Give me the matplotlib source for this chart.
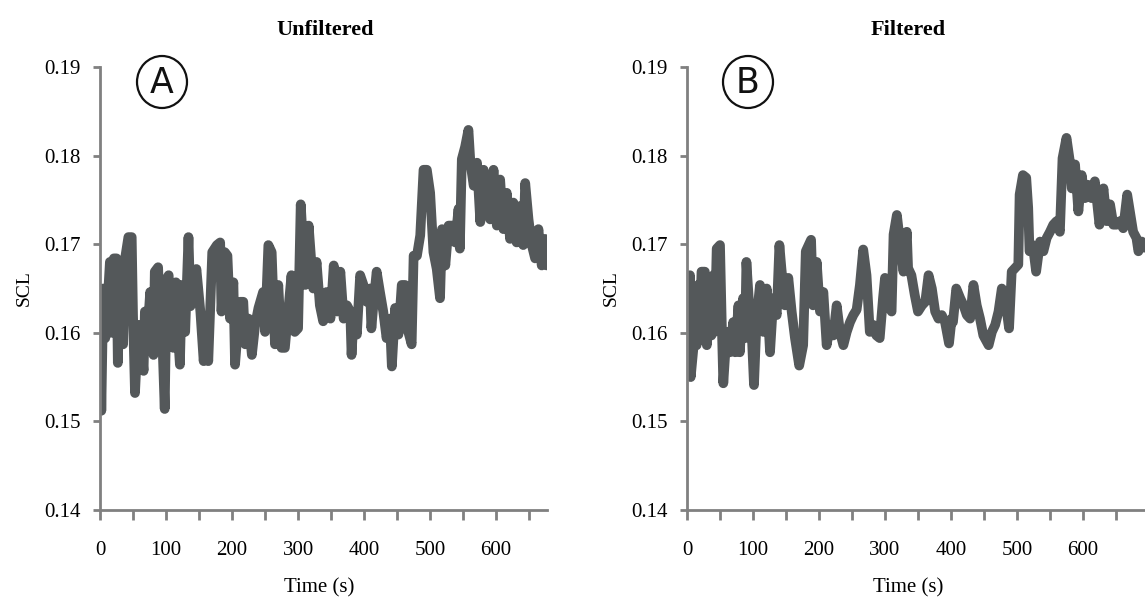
import matplotlib
matplotlib.use('Agg')
import matplotlib.pyplot as plt
from matplotlib.patches import Ellipse
from matplotlib.ticker import MultipleLocator

# unfiltered SCL trace (time in s, SCL)
raw_t = [0, 2, 5, 8, 12, 15, 18, 21, 25, 27, 30, 35, 38, 43, 48, 50, 53, 58, 62, 66,
         68, 72, 76, 81, 83, 88, 91, 95, 98, 101, 104, 108, 111, 115, 118, 121, 124, 129, 134, 137,
         139, 146, 152, 157, 160, 164, 170, 177, 182, 184, 189, 193, 197, 202, 204.5, 212, 217, 220, 225, 230,
         235, 240, 247, 250, 255, 260, 265, 270, 275, 280, 285, 290, 295, 300, 304, 311, 316, 323, 328, 333,
         338, 343, 349, 354, 359, 364, 369, 374, 379, 381, 384, 389, 394, 399, 404, 409, 411, 414, 419, 424,
         429, 434, 439, 442, 447, 452, 457, 462, 467, 472, 475, 480, 485, 490, 495, 500, 505, 510, 515, 518,
         523, 528, 533, 538, 543, 545, 548, 553, 558, 561, 566, 571, 576, 581, 586, 591, 596, 601, 606, 611,
         616, 621, 626, 631, 636, 641, 644, 649, 654, 659, 664, 669, 674, 677]
raw_scl = [0.1650, 0.1512, 0.1650, 0.1594, 0.1640, 0.1680, 0.1600, 0.1684, 0.1684, 0.1566,
           0.1650, 0.1587, 0.1684, 0.1708, 0.1708, 0.1620, 0.1532, 0.1609, 0.1590, 0.1557,
           0.1624, 0.1600, 0.1646, 0.1575, 0.1669, 0.1674, 0.1616, 0.1580, 0.1514, 0.1661,
           0.1665, 0.1600, 0.1583, 0.1657, 0.1600, 0.1564, 0.1654, 0.1601, 0.1708, 0.1630,
           0.1639, 0.1672, 0.1624, 0.1568, 0.1600, 0.1568, 0.1691, 0.1699, 0.1702, 0.1624,
           0.1691, 0.1687, 0.1616, 0.1657, 0.1564, 0.1635, 0.1635, 0.1587, 0.1616, 0.1575,
           0.1609, 0.1628, 0.1646, 0.1601, 0.1699, 0.1691, 0.1587, 0.1654, 0.1583, 0.1583,
           0.1624, 0.1665, 0.1601, 0.1605, 0.1745, 0.1654, 0.1721, 0.1650, 0.1680, 0.1631,
           0.1613, 0.1646, 0.1616, 0.1676, 0.1624, 0.1669, 0.1616, 0.1631, 0.1624, 0.1575,
           0.1616, 0.1598, 0.1665, 0.1654, 0.1635, 0.1650, 0.1605, 0.1631, 0.1669, 0.1646,
           0.1624, 0.1594, 0.1616, 0.1562, 0.1628, 0.1598, 0.1654, 0.1654, 0.1601, 0.1587,
           0.1687, 0.1687, 0.1710, 0.1784, 0.1784, 0.1758, 0.1691, 0.1672, 0.1639, 0.1717,
           0.1676, 0.1721, 0.1721, 0.1702, 0.1740, 0.1695, 0.1796, 0.1810, 0.1829, 0.1792,
           0.1766, 0.1792, 0.1725, 0.1784, 0.1743, 0.1728, 0.1784, 0.1721, 0.1773, 0.1717,
           0.1758, 0.1706, 0.1747, 0.1702, 0.1743, 0.1699, 0.1769, 0.1728, 0.1699, 0.1684,
           0.1717, 0.1676, 0.1706, 0.1676]

# filtered SCL trace
filt_t = [1, 4.5, 5.6, 9.6, 12, 14.6, 17, 19.7, 22, 27, 30, 35, 37, 40, 42, 45, 50, 52.5, 55, 60,
          65, 70, 73, 78, 80, 85, 88, 90, 95.5, 98, 101.5, 105.5, 110.6, 115.7, 120.7, 125.8, 130.8, 135.9, 140, 143,
          148.5, 153.5, 158.6, 163.6, 170, 176, 180, 188, 191, 196.5, 201.5, 206.6, 211.6, 216.7, 221.7, 226.8, 231.8, 236.9, 242, 247,
          252, 257, 262, 267, 272, 277, 282, 287, 292, 297, 300, 305, 310, 313, 318, 328, 333, 335, 340, 345,
          350, 356, 361, 366, 371, 376, 381, 386, 391, 397, 401, 403, 408, 414, 419, 424, 429, 434, 439, 444,
          449, 457, 462, 467, 472, 477, 482, 488, 492, 497, 502, 504, 509, 514, 517, 519, 524, 529, 535, 540,
          545, 550, 555, 560, 565, 569, 575, 580, 583, 588, 593, 598, 603, 608, 613, 618, 625, 631, 636, 641,
          646, 651, 656, 661, 667, 671, 676, 681, 684, 689, 694]
filt_scl = [0.1620, 0.1665, 0.1550, 0.1582, 0.1646, 0.1586, 0.1654, 0.1616, 0.1669, 0.1669,
            0.1586, 0.1643, 0.1597, 0.1665, 0.1601, 0.1695, 0.1699, 0.1616, 0.1543, 0.1601,
            0.1578, 0.1612, 0.1578, 0.1631, 0.1578, 0.1639, 0.1594, 0.1680, 0.1616, 0.1601,
            0.1541, 0.1616, 0.1654, 0.1601, 0.1650, 0.1578, 0.1639, 0.1620, 0.1699, 0.1673,
            0.1631, 0.1662, 0.1624, 0.1594, 0.1563, 0.1586, 0.1692, 0.1705, 0.1631, 0.1680,
            0.1624, 0.1646, 0.1586, 0.1609, 0.1597, 0.1631, 0.1601, 0.1586, 0.1601, 0.1612,
            0.1620, 0.1626, 0.1654, 0.1694, 0.1665, 0.1601, 0.1609, 0.1597, 0.1594, 0.1639,
            0.1662, 0.1631, 0.1624, 0.1711, 0.1733, 0.1669, 0.1714, 0.1673, 0.1665, 0.1643,
            0.1624, 0.1631, 0.1635, 0.1665, 0.1650, 0.1624, 0.1616, 0.1620, 0.1612, 0.1588,
            0.1616, 0.1612, 0.1650, 0.1639, 0.1631, 0.1620, 0.1616, 0.1654, 0.1631, 0.1616,
            0.1597, 0.1586, 0.1601, 0.1609, 0.1624, 0.1650, 0.1639, 0.1605, 0.1669, 0.1673,
            0.1677, 0.1756, 0.1778, 0.1775, 0.1741, 0.1692, 0.1699, 0.1669, 0.1703, 0.1692,
            0.1707, 0.1714, 0.1722, 0.1726, 0.1714, 0.1797, 0.1820, 0.1794, 0.1763, 0.1790,
            0.1737, 0.1778, 0.1752, 0.1767, 0.1752, 0.1771, 0.1722, 0.1763, 0.1726, 0.1745,
            0.1722, 0.1722, 0.1726, 0.1718, 0.1756, 0.1737, 0.1714, 0.1707, 0.1692, 0.1703,
            0.1696]

y_ticks = [0.14, 0.15, 0.16, 0.17, 0.18, 0.19]
x_ticks = [0, 100, 200, 300, 400, 500, 600]

serif = 'Liberation Serif'
line_col = '#54585a'
axis_col = '#808080'
W, H = 1145, 610

fig = plt.figure(figsize=(W / 100, H / 100), dpi=100)
ax1 = fig.add_axes([100 / W, 100 / H, 447 / W, 443 / H])
ax2 = fig.add_axes([687 / W, 100 / H, 460 / W, 443 / H])


def style(ax, xmax, width_px):
    ax.set_xlim(0, xmax)
    ax.set_ylim(0.14, 0.19)
    for s in ['top', 'right']:
        ax.spines[s].set_visible(False)
    for s in ['left', 'bottom']:
        ax.spines[s].set_color(axis_col)
        ax.spines[s].set_linewidth(2)
    ax.set_yticks(y_ticks)
    ax.set_yticklabels([f'{v:.2f}' for v in y_ticks])
    ax.set_xticks(x_ticks)
    ax.xaxis.set_minor_locator(MultipleLocator(50))
    ax.tick_params(axis='y', direction='out', length=5, width=2, color=axis_col, pad=9)
    ax.tick_params(axis='x', which='both', direction='out', length=7, width=2, color=axis_col, pad=15)
    for lab in ax.get_xticklabels() + ax.get_yticklabels():
        lab.set_fontfamily(serif)
        lab.set_fontsize(15)
    ax.set_ylabel('SCL', fontfamily=serif, fontsize=14)
    ax.yaxis.set_label_coords(-67 / width_px, 0.5)
    ax.set_xlabel('Time (s)', fontfamily=serif, fontsize=15)


ax1.plot(raw_t, raw_scl, color=line_col, lw=7, solid_joinstyle='round', solid_capstyle='round')
ax2.plot(filt_t, filt_scl, color=line_col, lw=7, solid_joinstyle='round', solid_capstyle='round')
style(ax1, 677, 447)
style(ax2, 697, 460)
ax1.xaxis.set_label_coords(0.49, -68 / 443)
ax2.xaxis.set_label_coords(221 / 460, -68 / 443)

fig.text(325 / W, 1 - 30 / H, 'Unfiltered', ha='center', va='center',
         fontfamily=serif, fontsize=16, fontweight='bold')
fig.text(908 / W, 1 - 30 / H, 'Filtered', ha='center', va='center',
         fontfamily=serif, fontsize=16, fontweight='bold')

# circled panel letters
for cx, letter in [(162, 'A'), (748, 'B')]:
    fig.add_artist(Ellipse((cx / W, 1 - 82 / H), 50 / W, 52 / H, transform=fig.transFigure,
                           fill=False, edgecolor='#111111', lw=1.6))
    fig.text(cx / W, 1 - 83 / H, letter, ha='center', va='center',
             fontfamily='DejaVu Sans', fontsize=25, color='#111111')

plt.savefig('out.png', dpi=100)
